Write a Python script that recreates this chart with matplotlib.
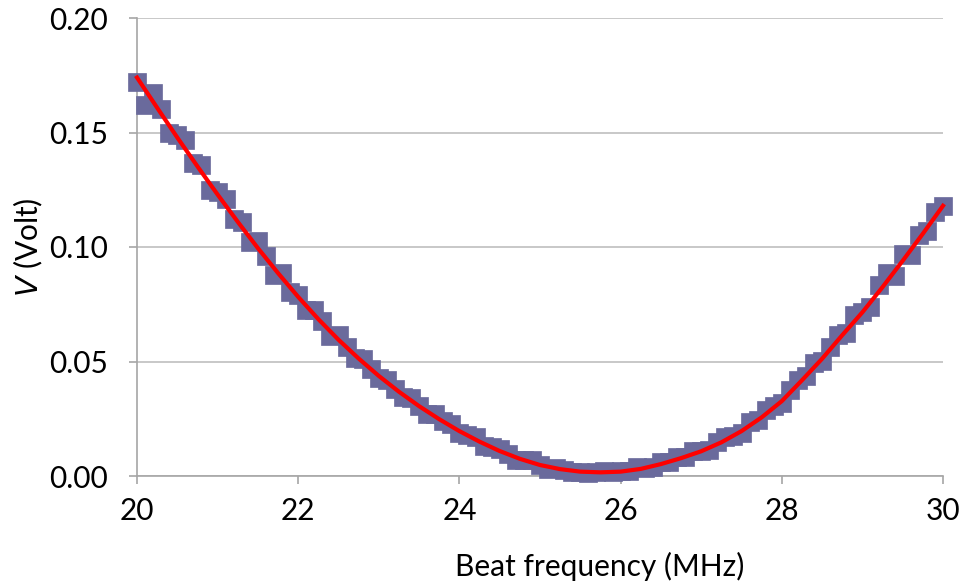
import matplotlib
matplotlib.use("Agg")
import matplotlib.pyplot as plt

# measured data (markers)
freq = [20.0, 20.1, 20.2, 20.3, 20.4, 20.5, 20.6, 20.7, 20.8, 20.9,
        21.0, 21.1, 21.2, 21.3, 21.4, 21.5, 21.6, 21.7, 21.8, 21.9,
        22.0, 22.1, 22.2, 22.3, 22.4, 22.5, 22.6, 22.7, 22.8, 22.9,
        23.0, 23.1, 23.2, 23.3, 23.4, 23.5, 23.6, 23.7, 23.8, 23.9,
        24.0, 24.1, 24.2, 24.3, 24.4, 24.5, 24.6, 24.7, 24.8, 24.9,
        25.0, 25.1, 25.2, 25.3, 25.4, 25.5, 25.6, 25.7, 25.8, 25.9,
        26.0, 26.1, 26.2, 26.3, 26.4, 26.5, 26.6, 26.7, 26.8, 26.9,
        27.0, 27.1, 27.2, 27.3, 27.4, 27.5, 27.6, 27.7, 27.8, 27.9,
        28.0, 28.1, 28.2, 28.3, 28.4, 28.5, 28.6, 28.7, 28.8, 28.9,
        29.0, 29.1, 29.2, 29.3, 29.4, 29.5, 29.6, 29.7, 29.8, 29.9, 30.0]
volt = [0.1720, 0.1622, 0.1674, 0.1602, 0.1500, 0.1488, 0.1468, 0.1367, 0.1357, 0.1248,
        0.1239, 0.1211, 0.1124, 0.1107, 0.1021, 0.1025, 0.0961, 0.0878, 0.0885, 0.0804,
        0.0792, 0.0723, 0.0724, 0.0677, 0.0611, 0.0615, 0.0562, 0.0514, 0.0513, 0.0468,
        0.0427, 0.0419, 0.0382, 0.0345, 0.0340, 0.0305, 0.0272, 0.0269, 0.0238, 0.0227,
        0.0186, 0.0178, 0.0169, 0.0132, 0.0125, 0.0119, 0.0095, 0.0072, 0.0070, 0.0069,
        0.0048, 0.0031, 0.0034, 0.0028, 0.0018, 0.0019, 0.0013, 0.0016, 0.0021, 0.0018,
        0.0024, 0.0024, 0.0039, 0.0035, 0.0039, 0.0062, 0.0062, 0.0083, 0.0084, 0.0111,
        0.0108, 0.0114, 0.0149, 0.0172, 0.0176, 0.0186, 0.0235, 0.0244, 0.0290, 0.0307,
        0.0320, 0.0375, 0.0420, 0.0437, 0.0495, 0.0502, 0.0565, 0.0615, 0.0625, 0.0705,
        0.0715, 0.0739, 0.0833, 0.0888, 0.0874, 0.0970, 0.0967, 0.1054, 0.1072, 0.1151, 0.1180]

# fitted curve (red line)
fit_freq = [20.00, 20.25, 20.50, 20.75, 21.00, 21.25, 21.50, 21.75, 22.00, 22.25,
            22.50, 22.75, 23.00, 23.25, 23.50, 23.75, 24.00, 24.25, 24.50, 24.75,
            25.00, 25.25, 25.50, 25.75, 26.00, 26.25, 26.50, 26.75, 27.00, 27.25,
            27.50, 27.75, 28.00, 28.25, 28.50, 28.75, 29.00, 29.25, 29.50, 29.75, 30.00]
fit_volt = [0.1740, 0.1608, 0.1478, 0.1352, 0.1229, 0.1110, 0.0995, 0.0886, 0.0782, 0.0685,
            0.0595, 0.0513, 0.0437, 0.0368, 0.0305, 0.0248, 0.0196, 0.0150, 0.0109, 0.0075,
            0.0048, 0.0030, 0.0019, 0.0016, 0.0019, 0.0031, 0.0052, 0.0078, 0.0108, 0.0147,
            0.0196, 0.0256, 0.0327, 0.0418, 0.0512, 0.0615, 0.0715, 0.0825, 0.0940, 0.1058, 0.1180]

xticks = [20, 22, 24, 26, 28, 30]
yticks = [0.00, 0.05, 0.10, 0.15, 0.20]
ytick_labels = ["0.00", "0.05", "0.10", "0.15", "0.20"]

plt.rcParams['font.family'] = ['Lato', 'DejaVu Sans']

fig = plt.figure(figsize=(9.61, 5.84), dpi=100)
ax = fig.add_axes([137/961, 1 - 476/584, (943-137)/961, (476-18)/584])

axis_gray = '#A6A6A6'
ax.set_xlim(20, 30)
ax.set_ylim(0, 0.20)
ax.set_yticks(yticks)
ax.set_yticklabels(ytick_labels)
ax.set_xticks(xticks)
ax.grid(axis='y', color='#BFBFBF', linewidth=1.2)
ax.set_axisbelow(True)
for s in ['top', 'right']:
    ax.spines[s].set_visible(False)
for s in ['left', 'bottom']:
    ax.spines[s].set_color(axis_gray)
    ax.spines[s].set_linewidth(1.2)
ax.tick_params(axis='both', colors=axis_gray, labelcolor='black', labelsize=21.5,
               length=6, width=1.2, direction='out')
ax.tick_params(axis='x', pad=9)
ax.tick_params(axis='y', pad=15)

ax.plot(freq, volt, linestyle='none', marker='s', markersize=13,
        markerfacecolor='#6A6A9C', markeredgecolor='#6A6A9C', markeredgewidth=0.5,
        clip_on=False, zorder=3)
ax.plot(fit_freq, fit_volt, color='#FF0000', linewidth=3, zorder=4, clip_on=False,
        solid_joinstyle='round')

ax.set_xlabel("Beat frequency (MHz)", fontsize=21.5, labelpad=0)
ax.xaxis.set_label_coords((600-137)/806, -(566-476)/458, transform=ax.transAxes)
ax.xaxis.label.set_va('center')
ax.set_ylabel(r"$V$ (Volt)", fontsize=21.5)
ax.yaxis.set_label_coords((28-137)/806, 0.5)
ax.yaxis.label.set_va('center')

fig.savefig("out.png", dpi=100)
